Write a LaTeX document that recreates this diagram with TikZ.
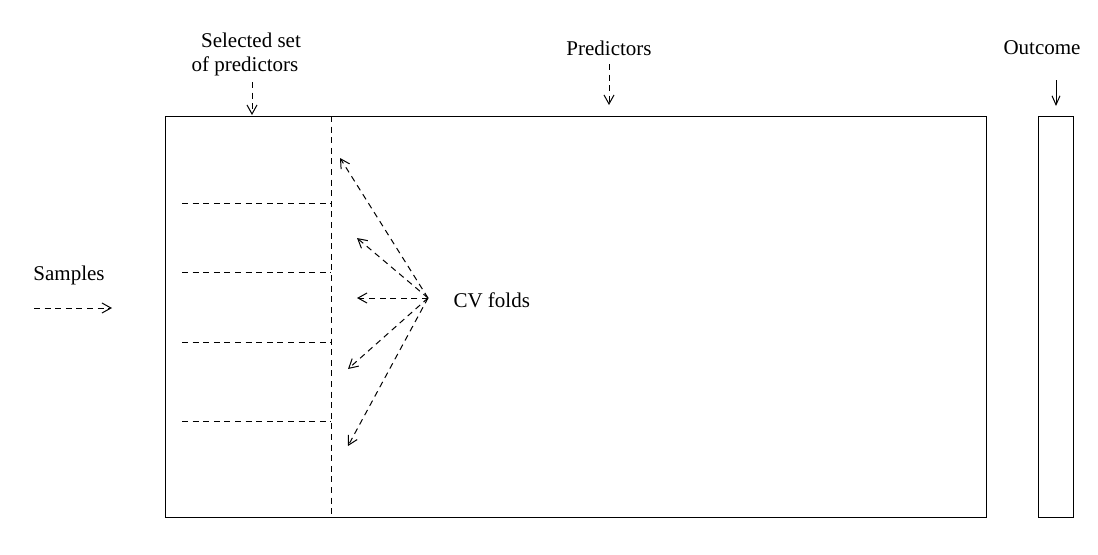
\documentclass[tikz,border=0pt]{standalone}
\usepackage{fontspec}
\setmainfont{Liberation Serif}
\usetikzlibrary{arrows.meta}
\begin{document}
\begin{tikzpicture}[x=0.5pt,y=-0.5pt,
  line width=0.5pt,
  dsh/.style={dash pattern=on 3pt off 2.3pt},
  darrow/.style={dsh,-{Straight Barb[length=4.5pt,width=5pt]}},
  sarrow/.style={-{Straight Barb[length=4.5pt,width=4pt]}},
  lbl/.style={font=\fontsize{10.5pt}{12pt}\selectfont,inner sep=0pt,align=center}]
\useasboundingbox (0,0) rectangle (1098,554);

% data matrix and outcome column
\draw (165,116) rectangle (986,517);
\draw (1038,116) rectangle (1073,517);

% boundary of the selected predictors
\coordinate (vtop) at (331,116);
\coordinate (vbot) at (331,517);
\draw[dsh] (vtop) -- (vbot);

% fold separators
\foreach \y [count=\i] in {203,272,342,421}{
  \coordinate (fl\i) at (182,\y);
  \coordinate (fr\i) at (331,\y);
  \draw[dsh] (fl\i) -- (fr\i);
}

% CV folds
\node[lbl,anchor=west] (cv) at (453,300) {CV folds};
\coordinate (hub) at (428,298);
\foreach \x/\y [count=\i] in {340/158,357/238,357/298,348/369,348/446}{
  \coordinate (f\i) at (\x,\y);
  \draw[darrow] (hub) -- (f\i);
}

% Samples
\node[lbl] (samples) at (69,275) {Samples};
\coordinate (s0) at (34,308);
\coordinate (s1) at (112,308);
\draw[darrow] (s0) -- (s1);

% Selected set of predictors
\node[lbl] (sel) at (245,54) {\hspace*{6pt}Selected set\\of predictors};
\coordinate (sel0) at (252,82);
\coordinate (sel1) at (252,115);
\draw[darrow] (sel0) -- (sel1);

% Predictors
\node[lbl] (pred) at (609,48) {Predictors};
\coordinate (p0) at (609,64);
\coordinate (p1) at (609,105);
\draw[darrow] (p0) -- (p1);

% Outcome
\node[lbl] (out) at (1042,48) {Outcome};
\coordinate (o0) at (1056,80);
\coordinate (o1) at (1056,106);
\draw[sarrow] (o0) -- (o1);
\end{tikzpicture}
\end{document}
